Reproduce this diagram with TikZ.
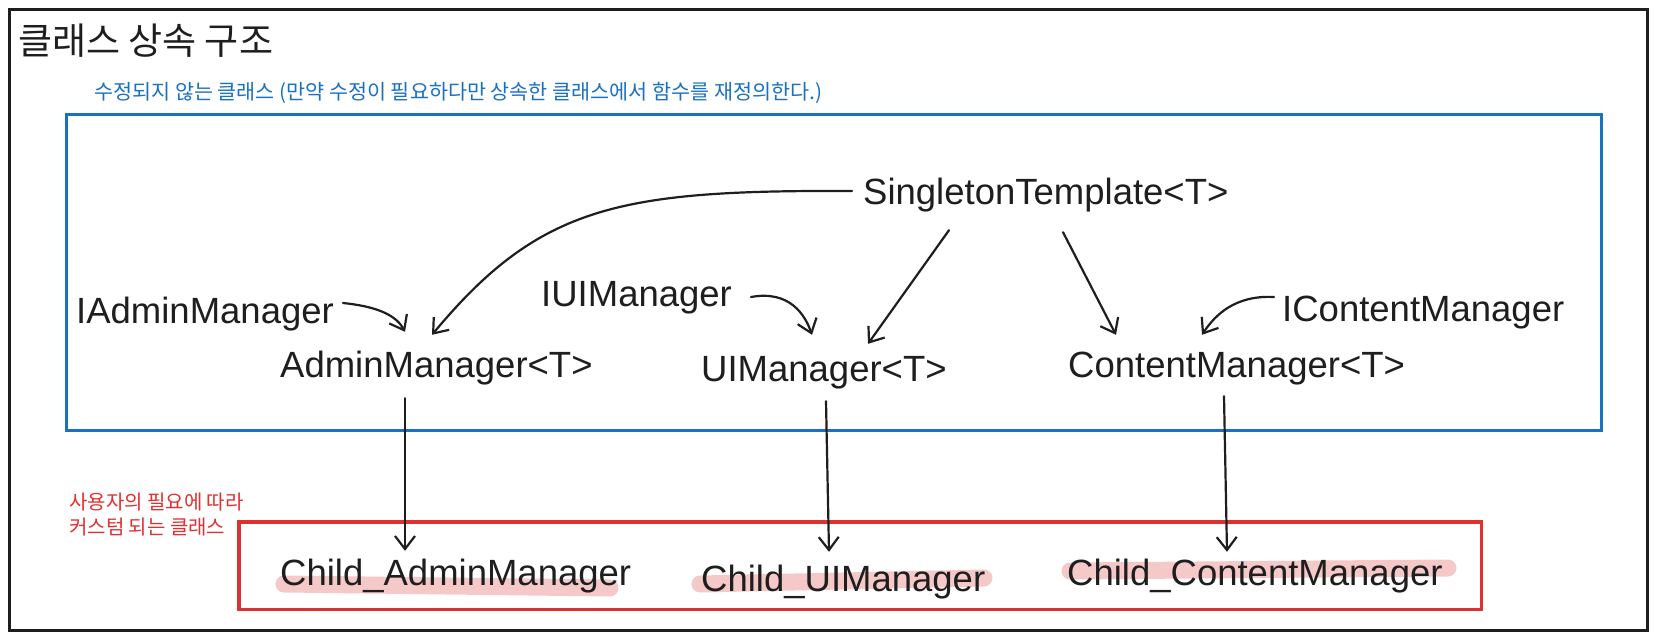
\documentclass[tikz,border=0pt]{standalone}
\usepackage{fontspec}
\setmainfont{Liberation Sans}
\newfontfamily\kr{Noto Sans CJK KR}
\usetikzlibrary{arrows.meta,calc}
\definecolor{exblue}{HTML}{1971C2}
\definecolor{exred}{HTML}{E03131}
\definecolor{exink}{HTML}{1E1E1E}
\definecolor{expink}{HTML}{F6C9C9}
\begin{document}
\begin{tikzpicture}[x=1pt,y=-1pt,
  lbl/.style={inner sep=0pt, anchor=base west, text=exink,
    font=\fontsize{36.5}{40}\selectfont, text height=26pt, text depth=8pt},
  arr/.style={draw=exink, line width=2.2pt, line cap=round,
    -{Straight Barb[length=13pt,width=20pt]}},
  hl/.style={draw=expink, line width=17pt, line cap=round},
  frame/.style={line width=3.5pt}]
\useasboundingbox (0,0) rectangle (1654,639);
\fill[white] (0,0) rectangle (1654,639);
% frames
\draw[frame, draw=exink] (9.5,9.5) rectangle (1647.5,630.5);
\draw[frame, draw=exblue] (66.5,114.5) rectangle (1601.5,430.5);
\draw[frame, draw=exred] (239,522) rectangle (1481.5,609.5);
% korean texts
\node[inner sep=0pt, anchor=west, text=exink, font=\kr\fontsize{37}{40}\selectfont] (title) at (18,41) {클래스 상속 구조};
\node[inner sep=0pt, anchor=west, text=exblue, font=\kr\fontsize{20.7}{24}\selectfont] (note) at (94,93) {수정되지 않는 클래스 (만약 수정이 필요하다만 상속한 클래스에서 함수를 재정의한다.)};
\node[inner sep=0pt, anchor=west, align=left, text=exred, font=\kr\fontsize{20}{25.5}\selectfont] (cnote) at (69,514.5) {사용자의 필요에 따라\\커스텀 되는 클래스};
% highlights
\draw[hl] (284,584) -- (610,588);
\draw[hl] (700,584) -- (984,578);
\draw[hl] (1070,571) -- (1448,568);
% nodes
\node[lbl] (S)  at (863,205) {SingletonTemplate<T>};
\node[lbl] (IA) at (76,323)  {IAdminManager};
\node[lbl] (A)  at (280,377) {AdminManager<T>};
\node[lbl] (IU) at (541,306) {IUIManager};
\node[lbl] (U)  at (701,381) {UIManager<T>};
\node[lbl] (C)  at (1068,377) {ContentManager<T>};
\node[lbl] (IC) at (1282,321) {IContentManager};
\node[lbl] (CA) at (280,585) {Child\_AdminManager};
\node[lbl] (CU) at (701,591) {Child\_UIManager};
\node[lbl] (CC) at (1067,585) {Child\_ContentManager};
% connectors
\draw[arr] ($(S.west)+(-11,-5)$) .. controls (620,190) and (540,205) .. ($(A.north west)+(152,-16)$);
\draw[arr] ($(S.south west)+(86,17)$) -- ($(U.north west)+(167,-11)$);
\draw[arr] ($(S.south west)+(200,19)$) -- ($(C.north west)+(48,-16)$);
\draw[arr] ($(IA.base west)+(267,-20)$) .. controls (372,306) and (395,313) .. ($(A.north west)+(125,-19)$);
\draw[arr] ($(IU.base west)+(210,-9)$) .. controls (790,290) and (805,315) .. ($(U.north west)+(111,-20)$);
\draw[arr] ($(IC.base west)+(-8,-24)$) .. controls (1235,295) and (1215,315) .. ($(C.north west)+(134,-16)$);
\draw[arr] ($(A.south west)+(125,13)$) -- ($(CA.north west)+(125,-8)$);
\draw[arr] ($(U.south west)+(125,12)$) -- ($(CU.north west)+(128,-13)$);
\draw[arr] ($(C.south west)+(156,11)$) -- ($(CC.north west)+(160,-7)$);
\end{tikzpicture}
\end{document}
